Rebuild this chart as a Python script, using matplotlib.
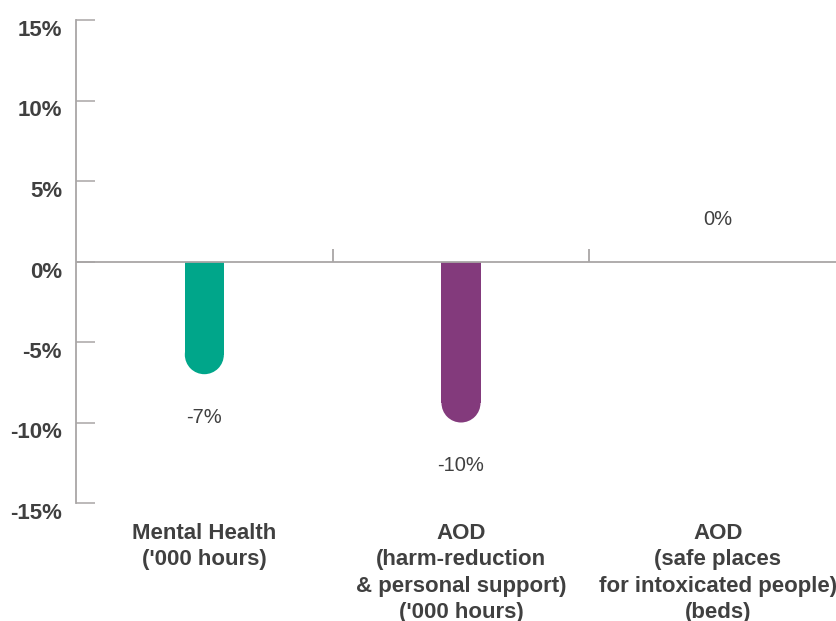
import matplotlib
matplotlib.use("Agg")
import matplotlib.pyplot as plt
from matplotlib.patches import Ellipse
import matplotlib.transforms as mtransforms

plt.rcParams['font.family'] = ['Liberation Sans', 'DejaVu Sans']

categories = ["Mental Health\n('000 hours)",
              "AOD\n(harm-reduction\n& personal support)\n('000 hours)",
              "AOD\n(safe places\nfor intoxicated people)\n(beds)"]
values = [-7, -10, 0]
value_labels = ["-7%", "-10%", "0%"]
colors = ["#00A68A", "#833A7C", "#833A7C"]
yticks = [-15, -10, -5, 0, 5, 10, 15]
ytick_labels = ["-15%", "-10%", "-5%", "0%", "5%", "10%", "15%"]

TXT = "#404040"
GRID = "#a9a6a6"

W, H = 837, 621
fig = plt.figure(figsize=(W / 100, H / 100), dpi=100)
ax = fig.add_axes([76 / W, 1 - 503 / H, (846 - 76) / W, (503 - 20) / H])

ax.set_xlim(-0.5, len(categories) - 0.5)
ax.set_ylim(-15, 15)

bw = 0.152
fig.canvas.draw()
px_per_y = ax.transData.transform((0, 1))[1] - ax.transData.transform((0, 0))[1]
px_per_x = ax.transData.transform((1, 0))[0] - ax.transData.transform((0, 0))[0]
r_px = bw * px_per_x / 2
r_y = r_px / px_per_y

xs = list(range(len(categories)))
for x, v, c in zip(xs, values, colors):
    if v == 0:
        continue
    ax.bar(x, v + r_y, width=bw, bottom=0, color=c, linewidth=0, zorder=2)
    ax.add_patch(Ellipse((x, v + r_y), bw, 2 * r_y, facecolor=c,
                         edgecolor='none', zorder=2))

for x, v, lab in zip(xs, values, value_labels):
    off = -31 if v < 0 else 30
    ax.annotate(lab, (x, v), xytext=(0, off), textcoords='offset points',
                ha='center', va='center', fontsize=14.5, color=TXT)

ax.axhline(0, color=GRID, lw=1.3, zorder=3)
for xd in [0.5, 1.5]:
    ax.plot([xd, xd], [0, 0.75], color=GRID, lw=1.3, zorder=3,
            solid_capstyle='butt')

for s in ['top', 'right', 'bottom']:
    ax.spines[s].set_visible(False)
ax.spines['left'].set_color(GRID)
ax.spines['left'].set_linewidth(1.3)

ax.set_yticks(yticks)
ax.set_yticklabels(ytick_labels, fontsize=16, fontweight='bold', color=TXT)
ax.tick_params(axis='y', direction='in', length=14, width=1.1, color=GRID, pad=10)
shift = mtransforms.ScaledTranslation(0, -8 / 100, fig.dpi_scale_trans)
for lab in ax.get_yticklabels():
    lab.set_transform(lab.get_transform() + shift)

ax.set_xticks(xs)
ax.set_xticklabels(categories, fontsize=16, fontweight='bold', color=TXT,
                   linespacing=1.33)
ax.tick_params(axis='x', length=0, pad=14.5)

fig.savefig("out.png", dpi=100)
